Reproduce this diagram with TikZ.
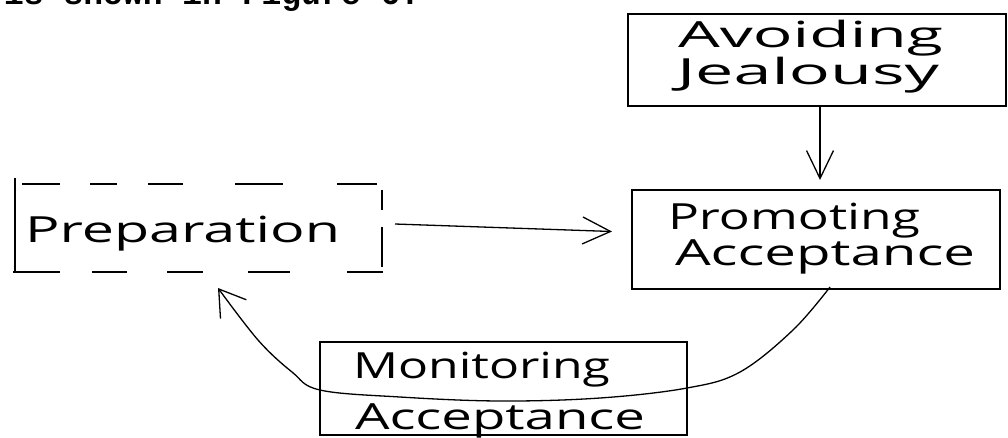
\documentclass[tikz,border=0pt]{standalone}
\usepackage{fontspec}
\usepackage{graphicx}
\usetikzlibrary{arrows.meta,calc}
\newfontfamily\handfont{Open Sans}
\newfontfamily\typefont{Liberation Mono}
\newcommand\hwl[3]{\hspace*{#1pt}\resizebox{#2pt}{\height}{#3}}
\newcommand\firststrut{\rule{0pt}{34pt}}
\newcommand\boxtxt[5]{\parbox[c][#1pt][t]{#2pt}{\handfont\fontsize{36}{#4}\selectfont\lineskiplimit=-100pt\lineskip=0pt\raggedright\vspace*{#3pt}#5}}
\tikzset{
  box/.style={draw, line width=1.2pt, inner sep=0pt, outer sep=0pt},
  plainbox/.style={inner sep=0pt, outer sep=0pt},
  edge/.style={line width=1.2pt},
  arr/.style={line width=1.3pt, -{Straight Barb[length=28pt,width=27pt,line width=1.3pt]}},
  curvearr/.style={line width=1.3pt, -{Straight Barb[length=25pt,width=32pt,line width=1.3pt]}},
}
\begin{document}
\begin{tikzpicture}[x=1pt,y=-1pt]
\useasboundingbox (0,0) rectangle (1008,437);
\clip (0,0) rectangle (1008,437);

% clipped line of running text at the top
\node[anchor=base west, inner sep=0pt, font=\typefont\bfseries\fontsize{33}{33}\selectfont] (caption) at (4,4) {is shown in Figure 6.};

% boxes
\node[box] (avoid) at (817,60)
  {\boxtxt{92}{378}{-1}{37}{\firststrut\hwl{50}{265}{Avoiding}\\\hwl{49}{262}{Jealousy}}};
\node[box] (promo) at (816,239.5)
  {\boxtxt{99}{368}{5}{36}{\firststrut\hwl{36}{252}{Promoting}\\\hwl{43}{300}{Acceptance}}};
\node[box] (monitor) at (503.5,388.5)
  {\boxtxt{93}{367}{2}{51}{\firststrut\hwl{33}{257}{Monitoring}\\\hwl{35}{290}{Acceptance}}};
\node[plainbox] (prep) at (198.5,228)
  {\boxtxt{88}{367}{24}{40}{\firststrut\hwl{10}{315}{Preparation}}};

% hand-drawn dashed border of Preparation
\draw[edge, dash pattern=on 38pt off 30pt on 27pt off 31pt on 35pt off 52pt on 48pt off 54pt on 40pt off 20pt]
  ($(prep.north west)+(7,0)$) -- ($(prep.north east)+(-5,0)$);
\draw[edge, dash pattern=on 47pt off 32pt on 35pt off 40pt on 36pt off 45pt on 42pt off 57pt on 36pt off 20pt]
  ($(prep.south west)+(-2,0)$) -- ($(prep.south east)+(1,0)$);
\draw[edge] ($(prep.north west)+(0,-6)$) -- (prep.south west);
\draw[edge, dash pattern=on 20pt off 17pt on 40pt off 20pt]
  ($(prep.north east)+(0,6)$) -- ($(prep.south east)+(0,-5)$);

% connectors
\draw[arr] ($(avoid.south)+(3,0)$) -- ($(promo.north)+(4,-10)$);
\draw[arr] ($(prep.east)+(13,-4)$) -- ($(promo.west)+(-20,-8)$);

\coordinate (cs) at ($(promo.south)+(14,-2)$);
\coordinate (ce) at ($(prep.south)+(19.5,16)$);
\draw[curvearr] plot[smooth, tension=0.6] coordinates
  {(cs) (793,330) (740,372) (687,388) (600,398) (500,401) (400,397) (320,390) (292,372) (258,340) (ce)};
\end{tikzpicture}
\end{document}
